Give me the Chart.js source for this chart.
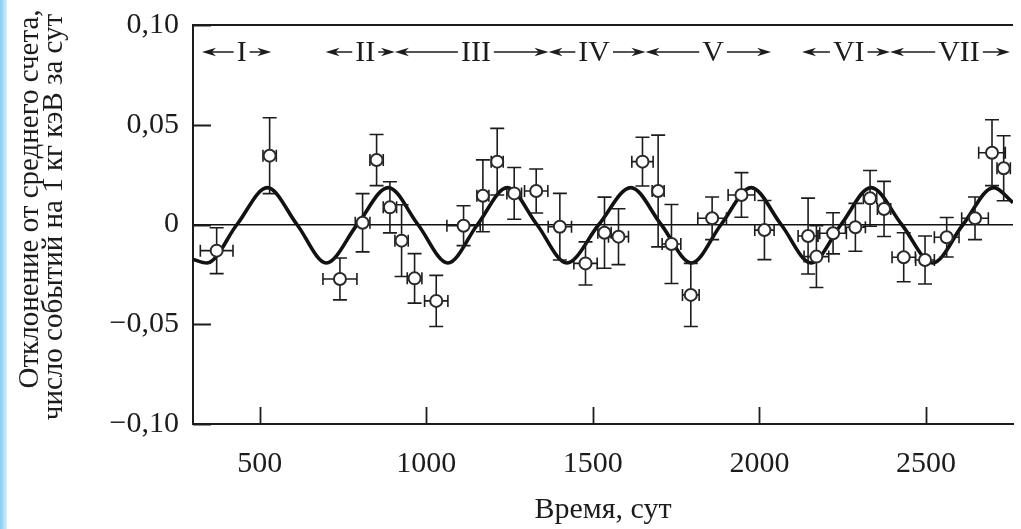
<!DOCTYPE html>
<html><head><meta charset="utf-8">
<script src="https://cdn.jsdelivr.net/npm/chart.js@4.4.1/dist/chart.umd.min.js"></script>
<style>
html,body{margin:0;padding:0;background:#fff;overflow:hidden}
#wrap{position:relative;width:1021px;height:529px}
#strip{position:absolute;left:0;top:0;width:7px;height:529px;background:linear-gradient(to right,#86cdf4,#d6eefb)}
canvas{position:absolute;left:0;top:0}
</style></head><body>
<div id="wrap"><div id="strip"></div><canvas id="c" width="1021" height="529"></canvas></div>
<script>
// Measured points (day, deviation) with errors
const pointX = [371,530,741,809,851,891,926,965,1030,1112,1170,1213,1264,1330,1401,1478,1535,1577,1649,1696,1736,1794,1858,1946,2015,2146,2171,2221,2288,2332,2374,2433,2497,2562,2647,2698,2733];
const pointY = [-0.0131,0.0345,-0.0273,0.0009,0.0323,0.0086,-0.0081,-0.0270,-0.0383,-0.0006,0.0144,0.0315,0.0156,0.0168,-0.0011,-0.0195,-0.0041,-0.0061,0.0315,0.0168,-0.0098,-0.0353,0.0031,0.0148,-0.0028,-0.0058,-0.0161,-0.0044,-0.0014,0.0131,0.0078,-0.0164,-0.0178,-0.0064,0.0031,0.0360,0.0282];
const errY = [0.0115,0.019,0.0105,0.0146,0.0128,0.0128,0.018,0.0124,0.0128,0.010,0.018,0.0167,0.013,0.011,0.0167,0.0108,0.0178,0.014,0.0122,0.028,0.0198,0.0158,0.0107,0.0112,0.0148,0.019,0.0155,0.0103,0.012,0.014,0.0138,0.0123,0.012,0.0099,0.0107,0.0165,0.0163];
const errX = [49,20,51,22,20,20,20,22,35,50,18,18,22,35,35,35,20,30,32,18,28,25,43,40,29,30,37,40,30,20,20,35,28,37,40,40,20];

// Fitted curve, read at extrema and zero crossings
const curveX = [300,342,432,523,612,700,793,886,975,1065,1154,1243,1332,1422,1518,1614,1705,1796,1885,1975,2065,2155,2245,2335,2427,2520,2611,2703,2761];
const curveY = [-0.0175,-0.0193,0,0.0185,0,-0.0193,0,0.0185,0,-0.0193,0,0.0185,0,-0.0193,0,0.0185,0,-0.0193,0,0.0185,0,-0.0193,0,0.0185,0,-0.0193,0,0.0185,0.011];

// Axis ticks
const xTicks = [500,1000,1500,2000,2500];
const xTickLabels = ['500','1000','1500','2000','2500'];
const yTicks = [-0.10,-0.05,0,0.05,0.10];
const yTickLabels = ['\u22120,10','\u22120,05','0','0,05','0,10'];

// Periods
const periodLabels = ['I','II','III','IV','V','VI','VII'];
const periodStart = [327,698,906,1367,1658,2128,2392];
const periodEnd = [535,906,1367,1658,2035,2392,2752];
const periodCenter = [446,817,1149,1504,1861,2268,2599];

const xTitle = 'Время, сут';
const yTitleLines = ['Отклонение от среднего счета,','число событий на 1 кг кэВ за сут'];

const FONT = '"Liberation Serif","Times New Roman",serif';
const INK = '#1c1c1c';

const pts = pointX.map((x,i)=>({x, y: pointY[i]}));
const curve = curveX.map((x,i)=>({x, y: curveY[i]}));

function arrowHead(ctx, tipX, y, dir){ // dir: -1 points left, +1 points right
  const L = 14, H = 4.2;
  ctx.beginPath();
  ctx.moveTo(tipX, y);
  ctx.lineTo(tipX - dir*L, y - H);
  ctx.lineTo(tipX - dir*L*0.7, y);
  ctx.lineTo(tipX - dir*L, y + H);
  ctx.closePath();
  ctx.fill();
}

const deco = {
  id: 'deco',
  beforeDatasetDraw(chart, args){
    if (args.index !== 0) return;
    const {ctx, scales:{x, y}} = chart;
    ctx.save();
    ctx.strokeStyle = INK; ctx.lineWidth = 1.6;
    ctx.beginPath();
    for (let i=0;i<pointX.length;i++){
      const px = x.getPixelForValue(pointX[i]);
      const py = y.getPixelForValue(pointY[i]);
      const yt = y.getPixelForValue(pointY[i]+errY[i]);
      const yb = y.getPixelForValue(pointY[i]-errY[i]);
      const xl = x.getPixelForValue(pointX[i]-errX[i]);
      const xr = x.getPixelForValue(pointX[i]+errX[i]);
      ctx.moveTo(px, yt); ctx.lineTo(px, yb);
      ctx.moveTo(px-7, yt); ctx.lineTo(px+7, yt);
      ctx.moveTo(px-7, yb); ctx.lineTo(px+7, yb);
      ctx.moveTo(xl, py); ctx.lineTo(xr, py);
      ctx.moveTo(xl, py-6); ctx.lineTo(xl, py+6);
      ctx.moveTo(xr, py-6); ctx.lineTo(xr, py+6);
    }
    ctx.stroke();
    ctx.restore();
  },
  afterDraw(chart){
    const {ctx, chartArea:a, scales:{x, y}} = chart;
    ctx.save();
    ctx.strokeStyle = INK; ctx.fillStyle = INK;
    // top border
    ctx.lineWidth = 2;
    ctx.beginPath(); ctx.moveTo(a.left, a.top); ctx.lineTo(a.right, a.top); ctx.stroke();
    // inward ticks
    ctx.lineWidth = 1.8;
    ctx.beginPath();
    yTicks.forEach(v=>{ const py = Math.round(y.getPixelForValue(v))+0.5; ctx.moveTo(a.left, py); ctx.lineTo(a.left+18, py); });
    xTicks.forEach(v=>{ const px = Math.round(x.getPixelForValue(v))+0.5; ctx.moveTo(px, a.bottom); ctx.lineTo(px, a.bottom-17); });
    ctx.stroke();
    // periods
    ctx.font = '30px ' + FONT;
    ctx.textAlign = 'center'; ctx.textBaseline = 'middle';
    const ly = a.top + 27;
    ctx.lineWidth = 1.4;
    periodLabels.forEach((lab,i)=>{
      const cx = x.getPixelForValue(periodCenter[i]);
      const sx = x.getPixelForValue(periodStart[i]);
      const ex = x.getPixelForValue(periodEnd[i]);
      const w = ctx.measureText(lab).width;
      ctx.fillText(lab, cx, ly + 1);
      const lEnd = cx - w/2 - 3, rStart = cx + w/2 + 3;
      ctx.beginPath();
      ctx.moveTo(sx + 4, ly); ctx.lineTo(lEnd, ly);
      ctx.moveTo(rStart, ly); ctx.lineTo(ex - 4, ly);
      ctx.stroke();
      arrowHead(ctx, sx, ly, -1);
      arrowHead(ctx, ex, ly, 1);
    });
    // y title
    ctx.font = '29px ' + FONT;
    ctx.save();
    ctx.translate(30, 199); ctx.rotate(-Math.PI/2);
    ctx.fillText(yTitleLines[0], 0, 0);
    ctx.restore();
    ctx.save();
    ctx.translate(54, 217); ctx.rotate(-Math.PI/2);
    ctx.fillText(yTitleLines[1], 0, 0);
    ctx.restore();
    ctx.restore();
  }
};

new Chart(document.getElementById('c'), {
  type: 'scatter',
  data: { datasets: [
    { data: pts, order: 0, pointStyle: 'circle', pointRadius: 6, pointBorderWidth: 2,
      pointBorderColor: '#2a2a2a', pointBackgroundColor: '#ffffff', showLine: false },
    { data: curve, order: 1, showLine: true, pointRadius: 0, borderColor: '#111', borderWidth: 3.6,
      cubicInterpolationMode: 'monotone', fill: false }
  ]},
  options: {
    responsive: false, animation: false,
    layout: { padding: { top: 25, right: 0, left: 0, bottom: 0 } },
    plugins: { legend: { display: false }, tooltip: { enabled: false } },
    scales: {
      x: {
        type: 'linear', min: 300, max: 2761,
        afterBuildTicks: s => { s.ticks = xTicks.map(v=>({value:v})); },
        afterFit: s => { s.height = 105; s.paddingLeft = 0; s.paddingRight = 0; },
        ticks: { color: INK, font: { family: FONT, size: 30 }, padding: 22,
                 callback: (v,i) => xTickLabels[i] },
        grid: { color: 'rgba(0,0,0,0)', drawTicks: false },
        border: { display: true, color: INK, width: 2 },
        title: { display: true, text: xTitle, color: INK, font: { family: FONT, size: 30, lineHeight: 1.0 }, padding: { top: 0, bottom: 4 } }
      },
      y: {
        min: -0.10, max: 0.10,
        afterBuildTicks: s => { s.ticks = yTicks.map(v=>({value:v})); },
        afterFit: s => { s.width = 193; s.paddingTop = 0; s.paddingBottom = 0; },
        ticks: { color: INK, font: { family: FONT, size: 30 }, padding: 14,
                 callback: (v,i) => yTickLabels[i] },
        grid: { drawTicks: false, lineWidth: 1.5,
                color: c => (c.tick && c.tick.value === 0) ? '#111' : 'rgba(0,0,0,0)' },
        border: { display: true, color: INK, width: 2 }
      }
    }
  },
  plugins: [deco]
});
</script>
</body></html>
